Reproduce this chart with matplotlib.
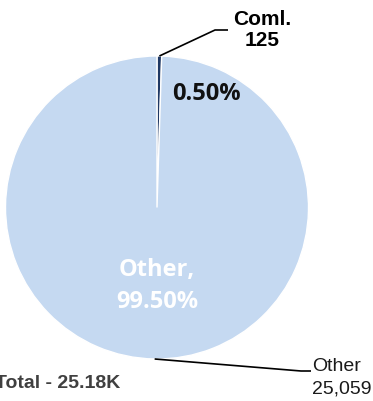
import numpy as np
import matplotlib
matplotlib.use("Agg")
import matplotlib.pyplot as plt

# segment values
labels = ["Coml.", "Other"]
values = [125, 25059]
colors = ["#1F3864", "#C5D9F1"]

W, H = 373, 401
total = sum(values)
pcts = [v / total * 100 for v in values]

fig = plt.figure(figsize=(W / 100, H / 100), dpi=100)
ax = fig.add_axes([0, 0, 1, 1])

cx, cy, r = 157, H - 207.5, 151.5
wedges, _ = ax.pie(values, colors=colors, startangle=90, counterclock=False,
                   center=(cx, cy), radius=r,
                   wedgeprops=dict(edgecolor="white", linewidth=1))
ax.set_xlim(0, W)
ax.set_ylim(0, H)
ax.set_aspect("equal")
ax.axis("off")

def edge_point(w):
    ang = np.deg2rad((w.theta1 + w.theta2) / 2)
    return cx + r * np.cos(ang), cy + r * np.sin(ang)

# Coml. callout
x0, y0 = edge_point(wedges[0])
ax.plot([x0, 215, 228], [y0, H - 30, H - 30], color="black", lw=1.2,
        solid_capstyle="butt")
ax.text(262, H - 30, f"{labels[0]}\n{values[0]:,}", ha="center", va="center",
        fontsize=15, fontweight="bold", family="Liberation Sans",
        linespacing=1.15)
ax.text(206, H - 93.5, f"{pcts[0]:.2f}%", ha="center", va="center",
        fontsize=17, fontweight="bold", family="Open Sans", color="#111111")

# Other callout
x1, y1 = edge_point(wedges[1])
ax.plot([x1, 301, 311], [y1, H - 371, H - 371], color="black", lw=1.2,
        solid_capstyle="butt")
ax.text(312, H - 378, f"{labels[1]}\n{values[1]:,}", ha="left", va="center",
        fontsize=14, family="Liberation Sans", color="#1a1a1a",
        linespacing=1.4)
ax.text(cx, H - 286, f"{labels[1]},\n{pcts[1]:.2f}%", ha="center", va="center",
        fontsize=17, fontweight="bold", family="Open Sans", color="white",
        linespacing=1.4)

ax.text(120, H - 384, f"Total - {total / 1000:.2f}K", ha="right", va="center",
        fontsize=14, fontweight="bold", family="Liberation Sans",
        color="#404040")

fig.savefig("out.png", dpi=100)
